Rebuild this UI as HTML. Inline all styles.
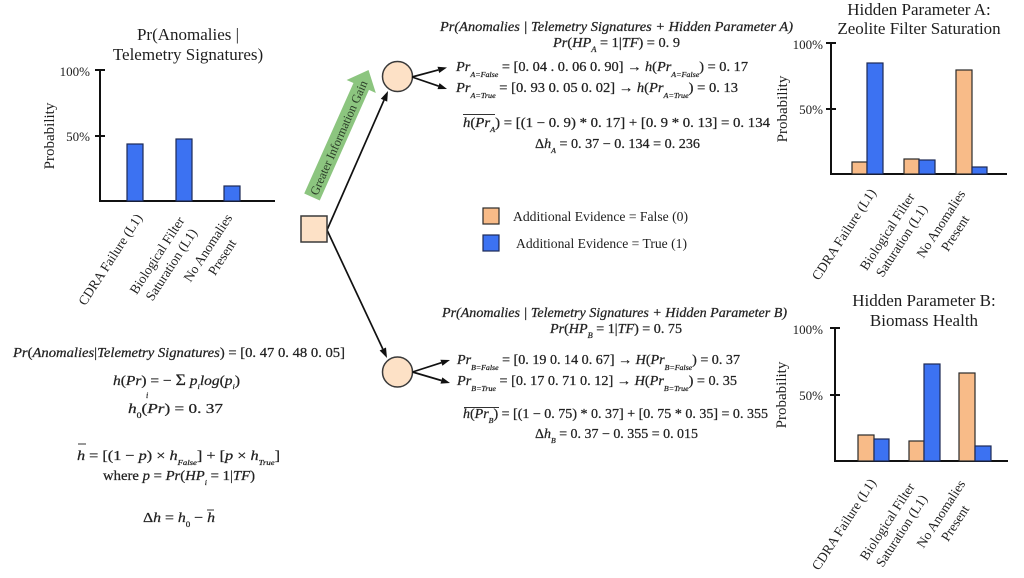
<!DOCTYPE html>
<html>
<head>
<meta charset="utf-8">
<style>
html,body{margin:0;padding:0;background:#fff;}
svg{display:block;}
.t{font-family:"Liberation Serif","DejaVu Serif",serif;fill:#1e1e1e;}
.m{font-family:"Liberation Serif","DejaVu Serif",serif;fill:#222;stroke:#222;stroke-width:0.25;font-size:13.5px;}
.i{font-style:italic;}
.ax{stroke:#111;stroke-width:2;fill:none;}
.bo{fill:#f8bb88;stroke:#2a2a2a;stroke-width:1.2;}
.bb{fill:#3c72f2;stroke:#1d2a55;stroke-width:1.2;}
.node{fill:#fde1c6;stroke:#3a3a3a;stroke-width:1.5;}
.ln{stroke:#111;stroke-width:1.7;fill:none;}
.ah{fill:#111;}
</style>
</head>
<body>
<svg width="1024" height="578" viewBox="0 0 1024 578" xmlns="http://www.w3.org/2000/svg" xml:space="preserve">
<rect width="1024" height="578" fill="#fff"/>

<!-- ===== Left chart ===== -->
<text class="t" x="188" y="40" font-size="17" text-anchor="middle">Pr(Anomalies |</text>
<text class="t" x="188" y="60" font-size="17" text-anchor="middle">Telemetry Signatures)</text>
<polyline class="ax" points="100,70 100,201 275,201"/>
<line class="ax" x1="95" y1="70" x2="105" y2="70"/>
<line class="ax" x1="95" y1="136" x2="105" y2="136"/>
<text class="t" x="90" y="76" font-size="13" text-anchor="end">100%</text>
<text class="t" x="90" y="141" font-size="13" text-anchor="end">50%</text>
<text class="t" font-size="15" text-anchor="middle" transform="translate(54,136) rotate(-90)">Probability</text>
<rect class="bb" x="127" y="144" width="16" height="57"/>
<rect class="bb" x="176" y="139" width="16" height="62"/>
<rect class="bb" x="224" y="186" width="16" height="15"/>
<g class="t" font-size="13.5" text-anchor="middle">
  <text transform="translate(114,262) rotate(-57)">CDRA Failure (L1)</text>
  <g transform="translate(160.8,257.8) rotate(-57)"><text x="0" y="0">Biological Filter</text><text x="0" y="17">Saturation (L1)</text></g>
  <g transform="translate(211.6,250.3) rotate(-57)"><text x="0" y="0">No Anomalies</text><text x="0" y="17">Present</text></g>
</g>

<!-- ===== Chart A ===== -->
<text class="t" x="919" y="15" font-size="17" text-anchor="middle">Hidden Parameter A:</text>
<text class="t" x="919" y="34" font-size="17" text-anchor="middle">Zeolite Filter Saturation</text>
<polyline class="ax" points="831,43 831,174 1007,174"/>
<line class="ax" x1="826" y1="43" x2="836" y2="43"/>
<line class="ax" x1="826" y1="109" x2="836" y2="109"/>
<text class="t" x="823" y="49" font-size="13" text-anchor="end">100%</text>
<text class="t" x="823" y="114" font-size="13" text-anchor="end">50%</text>
<text class="t" font-size="15" text-anchor="middle" transform="translate(787,109) rotate(-90)">Probability</text>
<rect class="bo" x="852" y="162" width="15" height="12"/>
<rect class="bb" x="867" y="63" width="16" height="111"/>
<rect class="bo" x="904" y="159" width="15" height="15"/>
<rect class="bb" x="919" y="160" width="16" height="14"/>
<rect class="bo" x="956" y="70" width="16" height="104"/>
<rect class="bb" x="972" y="167" width="15" height="7"/>
<g class="t" font-size="13.5" text-anchor="middle">
  <text transform="translate(847.6,236.8) rotate(-57)">CDRA Failure (L1)</text>
  <g transform="translate(891,234) rotate(-57)"><text x="0" y="0">Biological Filter</text><text x="0" y="17">Saturation (L1)</text></g>
  <g transform="translate(944.6,226.3) rotate(-57)"><text x="0" y="0">No Anomalies</text><text x="0" y="17">Present</text></g>
</g>

<!-- ===== Chart B ===== -->
<text class="t" x="924" y="306" font-size="17" text-anchor="middle">Hidden Parameter B:</text>
<text class="t" x="924" y="326" font-size="17" text-anchor="middle">Biomass Health</text>
<polyline class="ax" points="835,328 835,461 1008,461"/>
<line class="ax" x1="830" y1="328" x2="840" y2="328"/>
<line class="ax" x1="830" y1="395" x2="840" y2="395"/>
<text class="t" x="823" y="334" font-size="13" text-anchor="end">100%</text>
<text class="t" x="823" y="400" font-size="13" text-anchor="end">50%</text>
<text class="t" font-size="15" text-anchor="middle" transform="translate(786,395) rotate(-90)">Probability</text>
<rect class="bo" x="858" y="435" width="16" height="26"/>
<rect class="bb" x="874" y="439" width="15" height="22"/>
<rect class="bo" x="909" y="441" width="15" height="20"/>
<rect class="bb" x="924" y="364" width="16" height="97"/>
<rect class="bo" x="959" y="373" width="16" height="88"/>
<rect class="bb" x="975" y="446" width="16" height="15"/>
<g class="t" font-size="13.5" text-anchor="middle">
  <text transform="translate(847.6,526.8) rotate(-57)">CDRA Failure (L1)</text>
  <g transform="translate(891,524) rotate(-57)"><text x="0" y="0">Biological Filter</text><text x="0" y="17">Saturation (L1)</text></g>
  <g transform="translate(944.6,516.3) rotate(-57)"><text x="0" y="0">No Anomalies</text><text x="0" y="17">Present</text></g>
</g>

<!-- ===== Green arrow ===== -->
<g transform="translate(312,197) rotate(-66)">
  <polygon points="0,-8.5 121,-8.5 121,-16 139,0 121,16 121,8.5 0,8.5" fill="#8cc57f"/>
  <text class="t" x="65" y="4.5" font-size="12.5" text-anchor="middle" style="fill:#2b3d28" textLength="124" lengthAdjust="spacingAndGlyphs">Greater Information Gain</text>
</g>

<!-- ===== Tree ===== -->
<line class="ln" x1="327" y1="230" x2="384" y2="100.2"/>
<polygon class="ah" points="388,91 387.2,101.6 380.8,98.8"/>
<line class="ln" x1="327" y1="230" x2="382.8" y2="349"/>
<polygon class="ah" points="387,358 379.6,350.5 386,347.5"/>
<rect class="node" x="301" y="216" width="26" height="26"/>
<circle class="node" cx="397.5" cy="76.5" r="15"/>
<circle class="node" cx="397.5" cy="372" r="15"/>
<line class="ln" x1="412" y1="77" x2="438.3" y2="69.9"/>
<polygon class="ah" points="447,67.5 439.2,73 437.5,66.8"/>
<line class="ln" x1="412" y1="77" x2="438.5" y2="86.1"/>
<polygon class="ah" points="447,89 437.5,89.1 439.5,83.1"/>
<line class="ln" x1="412.5" y1="372" x2="441.4" y2="362.7"/>
<polygon class="ah" points="450,360 442.4,365.8 440.4,359.7"/>
<line class="ln" x1="412.5" y1="372" x2="441.4" y2="380.5"/>
<polygon class="ah" points="450,383 440.5,383.6 442.3,377.4"/>

<!-- ===== Legend ===== -->
<rect class="bo" x="483" y="208" width="16" height="16"/>
<rect class="bb" x="483" y="235" width="16" height="16"/>
<text class="t" x="513" y="221" font-size="14" textLength="175" lengthAdjust="spacingAndGlyphs">Additional Evidence = False (0)</text>
<text class="t" x="516" y="248" font-size="14" textLength="171" lengthAdjust="spacingAndGlyphs">Additional Evidence = True (1)</text>

<!-- ===== Top math block ===== -->
<text class="m i" x="440" y="31" textLength="353" lengthAdjust="spacingAndGlyphs">Pr(Anomalies | Telemetry Signatures  +  Hidden Parameter A)</text>
<text class="m" x="553" y="47" textLength="127" lengthAdjust="spacingAndGlyphs"><tspan class="i">Pr</tspan>(<tspan class="i">HP</tspan><tspan class="i" font-size="8" dy="5">A</tspan><tspan dy="-5"> = 1|</tspan><tspan class="i">TF</tspan>) = 0. 9</text>
<text class="m" x="456" y="71" textLength="292" lengthAdjust="spacingAndGlyphs"><tspan class="i">Pr</tspan><tspan class="i" font-size="7.5" dy="6">A=False</tspan><tspan dy="-6"> =  [0. 04 . 0. 06 0. 90] → </tspan><tspan class="i">h</tspan>(<tspan class="i">Pr</tspan><tspan class="i" font-size="7.5" dy="6">A=False</tspan><tspan dy="-6">) = 0. 17</tspan></text>
<text class="m" x="456" y="92" textLength="282" lengthAdjust="spacingAndGlyphs"><tspan class="i">Pr</tspan><tspan class="i" font-size="7.5" dy="6">A=True</tspan><tspan dy="-6"> = [0. 93 0. 05 0. 02] → </tspan><tspan class="i">h</tspan>(<tspan class="i">Pr</tspan><tspan class="i" font-size="7.5" dy="6">A=True</tspan><tspan dy="-6">) = 0. 13</tspan></text>
<line x1="463" y1="114.5" x2="495" y2="114.5" stroke="#333" stroke-width="1"/>
<text class="m" x="463" y="127" textLength="307" lengthAdjust="spacingAndGlyphs"><tspan class="i">h</tspan>(<tspan class="i">Pr</tspan><tspan class="i" font-size="7.5" dy="5">A</tspan><tspan dy="-5">) =  [(1 − 0. 9) * 0. 17]  +  [0. 9 * 0. 13] = 0. 134</tspan></text>
<text class="m" x="535" y="148" textLength="165" lengthAdjust="spacingAndGlyphs">Δ<tspan class="i">h</tspan><tspan class="i" font-size="7.5" dy="5">A</tspan><tspan dy="-5"> = 0. 37 − 0. 134 = 0. 236</tspan></text>

<!-- ===== Bottom math block ===== -->
<text class="m i" x="442" y="317" textLength="345" lengthAdjust="spacingAndGlyphs">Pr(Anomalies | Telemetry Signatures  +  Hidden Parameter B)</text>
<text class="m" x="550" y="333" textLength="132" lengthAdjust="spacingAndGlyphs"><tspan class="i">Pr</tspan>(<tspan class="i">HP</tspan><tspan class="i" font-size="8" dy="5">B</tspan><tspan dy="-5"> = 1|</tspan><tspan class="i">TF</tspan>) = 0. 75</text>
<text class="m" x="457" y="364" textLength="283" lengthAdjust="spacingAndGlyphs"><tspan class="i">Pr</tspan><tspan class="i" font-size="7.5" dy="6">B=False</tspan><tspan dy="-6"> = [0. 19 0. 14 0. 67] → </tspan><tspan class="i">H</tspan>(<tspan class="i">Pr</tspan><tspan class="i" font-size="7.5" dy="6">B=False</tspan><tspan dy="-6">) = 0. 37</tspan></text>
<text class="m" x="457" y="385" textLength="280" lengthAdjust="spacingAndGlyphs"><tspan class="i">Pr</tspan><tspan class="i" font-size="7.5" dy="6">B=True</tspan><tspan dy="-6"> = [0. 17 0. 71 0. 12] → </tspan><tspan class="i">H</tspan>(<tspan class="i">Pr</tspan><tspan class="i" font-size="7.5" dy="6">B=True</tspan><tspan dy="-6">) = 0. 35</tspan></text>
<line x1="464" y1="407.5" x2="499" y2="407.5" stroke="#333" stroke-width="1"/>
<text class="m" x="463" y="418" textLength="305" lengthAdjust="spacingAndGlyphs"><tspan class="i">h</tspan>(<tspan class="i">Pr</tspan><tspan class="i" font-size="7.5" dy="5">B</tspan><tspan dy="-5">) = [(1 − 0. 75) * 0. 37] + [0. 75 * 0. 35] = 0. 355</tspan></text>
<text class="m" x="535" y="438" textLength="163" lengthAdjust="spacingAndGlyphs">Δ<tspan class="i">h</tspan><tspan class="i" font-size="7.5" dy="5">B</tspan><tspan dy="-5"> = 0. 37 − 0. 355 = 0. 015</tspan></text>

<!-- ===== Left math block ===== -->
<text class="m" x="13" y="357" style="font-size:14px" textLength="332" lengthAdjust="spacingAndGlyphs"><tspan class="i">Pr</tspan>(<tspan class="i">Anomalies</tspan>|<tspan class="i">Telemetry Signatures</tspan>)  =  [0. 47 0. 48 0. 05]</text>
<text class="m" x="113" y="385" style="font-size:14px" textLength="127" lengthAdjust="spacingAndGlyphs"><tspan class="i">h</tspan>(<tspan class="i">Pr</tspan>) =   − <tspan font-size="16">Σ</tspan> <tspan class="i">p</tspan><tspan class="i" font-size="7.5" dy="4">i</tspan><tspan dy="-4" class="i">log</tspan>(<tspan class="i">p</tspan><tspan class="i" font-size="7.5" dy="4">i</tspan><tspan dy="-4">)</tspan></text>
<text class="m i" x="146" y="398" style="font-size:8px">i</text>
<text class="m" x="128" y="413" style="font-size:14px" textLength="95" lengthAdjust="spacingAndGlyphs"><tspan class="i">h</tspan><tspan font-size="8" dy="5">0</tspan><tspan dy="-5">(</tspan><tspan class="i">Pr</tspan>)  =  0. 37</text>
<line x1="78" y1="444" x2="86" y2="444" stroke="#333" stroke-width="1"/>
<text class="m" x="77" y="460" style="font-size:14px" textLength="203" lengthAdjust="spacingAndGlyphs"><tspan class="i">h</tspan> = [(1 − <tspan class="i">p</tspan>) × <tspan class="i">h</tspan><tspan class="i" font-size="7.5" dy="5">False</tspan><tspan dy="-5">] + [</tspan><tspan class="i">p</tspan> × <tspan class="i">h</tspan><tspan class="i" font-size="7.5" dy="5">True</tspan><tspan dy="-5">]</tspan></text>
<text class="m" x="103" y="480" style="font-size:14px" textLength="152" lengthAdjust="spacingAndGlyphs">where <tspan class="i">p</tspan> = <tspan class="i">Pr</tspan>(<tspan class="i">HP</tspan><tspan class="i" font-size="7.5" dy="5">i</tspan><tspan dy="-5"> = 1|</tspan><tspan class="i">TF</tspan>)</text>
<line x1="207" y1="510" x2="214" y2="510" stroke="#333" stroke-width="1"/>
<text class="m" x="143" y="522" style="font-size:14px" textLength="72" lengthAdjust="spacingAndGlyphs">Δ<tspan class="i">h</tspan> = <tspan class="i">h</tspan><tspan font-size="8" dy="5">0</tspan><tspan dy="-5"> − </tspan><tspan class="i">h</tspan></text>
</svg>
</body>
</html>
